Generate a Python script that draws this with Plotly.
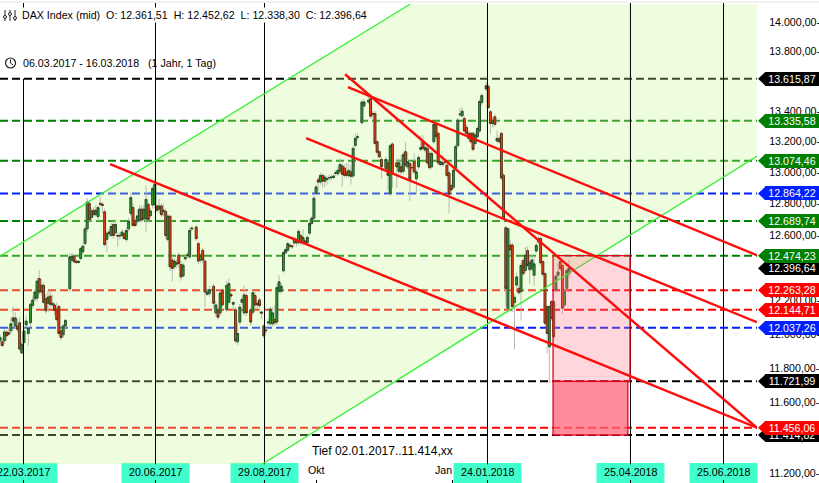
import numpy as np
import plotly.graph_objects as go

# ---------- data ----------
bars = """0 11960 12000 11945 11980
1 11954 11975 11925 11931
2 11960 12030 11940 12012
3 12012 12025 11960 11989
4 12008 12040 11985 11999
5 12019 12100 12000 12061
6 12096 12165 12060 12077
7 12048 12130 12030 12096
8 12048 12090 12010 12028
9 12067 12100 11900 11911
10 11888 11950 11880 11940
11 11950 12040 11940 12018
12 12054 12110 12040 12077
13 12003 12045 11930 12034
14 12067 12190 12040 12178
15 12171 12225 12150 12204
16 12211 12270 12195 12252
17 12215 12340 12190 12318
18 12334 12385 12235 12252
19 12293 12330 12230 12252
20 12293 12310 12180 12190
21 12211 12240 12120 12139
22 12184 12260 12130 12221
23 12227 12265 12150 12178
24 12174 12240 12160 12184
25 12174 12190 12110 12141
26 12149 12190 12070 12087
27 12165 12175 11985 12003
28 12018 12035 11960 11979
29 11995 12060 11975 12048
30 12048 12090 12035 12081
32 12272 12490 12255 12467
33 12447 12490 12435 12471
34 12471 12480 12425 12437
35 12440 12450 12425 12432
36 12432 12450 12425 12440
37 12457 12530 12445 12518
38 12498 12545 12480 12533
39 12549 12660 12535 12641
40 12641 12835 12620 12810
41 12800 12820 12680 12699
42 12713 12770 12690 12754
43 12758 12780 12715 12730
44 12730 12790 12720 12758
45 12718 12790 12690 12775
46 12802 12845 12780 12795
47 12795 12810 12740 12789
48 12748 12770 12530 12543
49 12576 12630 12495 12611
50 12621 12640 12590 12611
51 12600 12680 12590 12656
52 12668 12690 12580 12600
53 12617 12700 12600 12668
54 12600 12620 12530 12596
55 12596 12620 12570 12600
56 12600 12640 12585 12621
57 12611 12630 12570 12580
58 12574 12650 12560 12631
59 12641 12710 12625 12689
60 12738 12870 12720 12838
61 12775 12800 12650 12662
62 12693 12710 12650 12662
63 12689 12760 12670 12722
64 12693 12790 12680 12765
65 12765 12790 12680 12697
66 12703 12790 12690 12765
67 12703 12915 12620 12827
68 12795 12810 12680 12699
69 12724 12770 12710 12754
70 12791 12910 12770 12897
71 12795 12960 12770 12923
72 12785 12800 12745 12758
73 12764 12830 12740 12785
74 12785 12800 12715 12730
75 12750 12800 12720 12758
76 12750 12770 12580 12600
77 12574 12735 12560 12720
78 12720 12730 12380 12406
79 12447 12470 12315 12396
80 12406 12460 12390 12441
81 12430 12450 12400 12422
82 12478 12495 12400 12426
83 12420 12440 12320 12344
84 12350 12430 12340 12416
85 12455 12475 12440 12463
86 12480 12500 12460 12477
87 12467 12650 12455 12631
88 12640 12660 12625 12645
90 12652 12665 12565 12580
91 12549 12565 12420 12441
92 12447 12490 12430 12478
93 12508 12520 12430 12447
94 12441 12450 12160 12252
95 12238 12270 12230 12252
96 12242 12290 12225 12266
98 12287 12300 12150 12184
99 12126 12195 12100 12174
100 12145 12160 12085 12100
101 12126 12260 12110 12246
102 12262 12280 12160 12174
104 12145 12320 12130 12293
105 12190 12335 12175 12303
106 12237 12250 12210 12228
107 12178 12200 12140 12188
108 12145 12160 11945 11960
109 11954 12070 11935 12003
110 12071 12180 12055 12161
111 12190 12225 12170 12207
112 12126 12290 12110 12235
113 12231 12245 12105 12126
115 12145 12160 12050 12071
116 12130 12265 12115 12248
117 12231 12250 12155 12174
118 12184 12200 12150 12174
119 12204 12220 12120 12170
120 12131 12140 12090 12125
121 12048 12060 11975 11989
122 12023 12040 12000 12020
123 12067 12090 12050 12071
124 12061 12165 12045 12149
125 12061 12160 12045 12126
126 12087 12170 12050 12067
127 12071 12300 12055 12279
128 12256 12355 12240 12314
129 12256 12305 12240 12287
130 12381 12505 12370 12494
131 12492 12525 12480 12512
132 12508 12565 12495 12549
133 12539 12550 12520 12533
134 12535 12545 12515 12530
135 12553 12595 12540 12580
136 12570 12585 12530 12553
137 12555 12640 12540 12625
138 12599 12610 12540 12555
139 12555 12640 12540 12588
140 12566 12580 12540 12555
141 12555 12600 12540 12588
142 12614 12700 12600 12675
143 12675 12725 12660 12708
144 12708 12850 12695 12834
145 12865 12920 12850 12906
146 12952 12970 12880 12937
147 12937 12995 12920 12980
148 12980 12995 12900 12943
149 12943 12985 12905 12969
150 12955 12975 12920 12958
151 12965 12985 12945 12965
152 12965 12985 12950 12969
153 12967 12990 12955 12975
154 12992 13015 12975 12998
155 12991 13040 12975 13013
156 13006 13090 12990 13050
157 13041 13060 12910 12987
158 13028 13050 12965 12980
159 13002 13060 12965 12980
160 12978 13060 12965 13013
161 13002 13045 12920 12974
162 12976 13170 12960 13155
163 13174 13250 13160 13220
164 13225 13255 13210 13231
166 13323 13475 13310 13460
167 13434 13480 13420 13460
169 13460 13500 13445 13471
170 13482 13510 13350 13366
171 13384 13400 13340 13378
172 13384 13400 13175 13187
173 13198 13210 13115 13129
174 13133 13145 13090 13100
175 13083 13100 12960 13035
177 13024 13100 13010 13083
178 13061 13075 12885 12980
179 12865 13185 12850 13172
180 13183 13195 12900 12991
182 13061 13090 12900 13035
183 13006 13090 12990 13061
184 13035 13110 12985 13002
185 13006 13130 12990 13115
186 13133 13195 13030 13046
187 13035 13130 13020 13068
188 13057 13075 12815 12952
189 13030 13050 13010 13030
190 13068 13120 12985 13002
191 12958 13020 12860 13002
192 13035 13110 13020 13096
193 13148 13240 13135 13161
194 13198 13240 13140 13155
195 13144 13200 13130 13161
196 13155 13170 13045 13061
197 13122 13140 13015 13030
198 13035 13135 13020 13122
199 13198 13325 13185 13312
200 13314 13330 13215 13231
201 13253 13265 13045 13061
202 13050 13085 13035 13068
203 13061 13080 13035 13050
204 13065 13080 13050 13065
205 13046 13060 12965 12980
206 12996 13010 12740 12860
207 12915 12930 12870 12887
208 12904 13030 12890 13013
209 13028 13180 13015 13166
210 13172 13355 13160 13340
211 13375 13420 13360 13380
212 13368 13425 13355 13399
213 13351 13365 13250 13268
214 13292 13310 13240 13253
215 13253 13270 13205 13220
216 13253 13265 13185 13198
217 13253 13265 13135 13148
218 13187 13260 13175 13242
219 13231 13300 13220 13285
220 13268 13480 13255 13464
221 13456 13520 13440 13503
223 13547 13595 13535 13569
224 13565 13580 13410 13423
225 13395 13410 13250 13318
226 13318 13360 13290 13340
227 13362 13380 13295 13312
228 13203 13270 13190 13220
229 13220 13240 13185 13198
230 13253 13265 12950 12963
231 12980 12995 12695 12708
232 12648 12660 12164 12274
233 12154 12650 12130 12642
234 12540 12570 12480 12510
235 12540 12555 12130 12164
236 12188 12240 11910 12220
237 12294 12370 12270 12344
238 12274 12290 12235 12248
239 12254 12430 12080 12414
240 12444 12460 12350 12364
241 12384 12530 12370 12478
242 12506 12530 12400 12414
243 12388 12470 12300 12434
244 12394 12480 12380 12448
245 12354 12470 12290 12424
246 12503 12555 12490 12538
247 12560 12600 12545 12580
248 12580 12595 12415 12430
249 12438 12450 12345 12360
250 12364 12375 12050 12064
251 12164 12175 11884 12004
252 11924 12175 11714 12164
253 12194 12205 12080 12094
254 12194 12205 11970 11984
255 12264 12360 12250 12348
256 12354 12430 12340 12374
257 12438 12450 12380 12394
258 12414 12425 12120 12154
259 12174 12265 12160 12254
260 12274 12400 12260 12384
261 12361.51 12452.62 12338.30 12396.64"""
rows = [[float(v) for v in r.split()] for r in bars.splitlines()]
bar_index = [r[0] for r in rows]
open_ = [r[1] for r in rows]
high = [r[2] for r in rows]
low = [r[3] for r in rows]
close = [r[4] for r in rows]

level_values = [13615.87, 13335.58, 13074.46, 12864.22, 12689.74, 12474.23,
                12263.28, 12144.71, 12037.26, 11721.99, 11456.06, 11414.82]
level_colors = ["#000000", "#008000", "#008000", "#0020ff", "#008000", "#008000",
                "#ff0000", "#ff0000", "#0020ff", "#000000", "#ff0000", "#000000"]
last_close = 12396.64

date_index = [10.78, 71.33, 121.33, 223.62, 289.2, 331.88]
date_labels = ["22.03.2017", "20.06.2017", "29.08.2017", "24.01.2018", "25.04.2018", "25.06.2018"]
month_index = [145.2, 207.5]
month_labels = ["Okt", "Jan"]

y_tickvals = [14000, 13800, 13600, 13400, 13200, 13000, 12800, 12600, 12400, 12200, 12000, 11800, 11600, 11400, 11200]
y_ticktext = ["14.000,00-", "13.800,00-", "13.600,00-", "13.400,00-", "13.200,00-", "13.000,00-", "12.800,00-",
              "12.600,00-", "12.400,00-", "12.200,00-", "12.000,00-", "11.800,00-", "11.600,00-", "11.400,00-", "11.200,00-"]

trend_x = [[50.5, 347.2], [158.3, 347.2], [159.6, 347.2], [140.4, 347.2]]
trend_y = [[13052, 11456], [13646, 11456], [13559, 12477], [13221, 12070]]

channel_x = [0, 188, 347.2, 347.2, 120.2, 0]
channel_y = [12471, 14127, 14127, 13104, 11251, 11251]
channel_up_x, channel_up_y = [0, 188], [12471, 14127]
channel_lo_x, channel_lo_y = [120.2, 347.2], [11251, 13104]

target_x = [253.7, 289]
target_y = [12474.23, 11721.99]
stop_x = [253.7, 288]
stop_y = [11721.99, 11414.82]

# ---------- layout constants ----------
W, H = 819, 483
ML, MR, MT, MB = 0, 62, 3, 0
PW, PH = W - ML - MR, H - MT - MB
PX_PER_BAR = 2.18
x_range = [0, PW / PX_PER_BAR]
y_top, y_bot = 14136.0, 11147.0
y_range = [np.log10(y_bot), np.log10(y_top)]
FONT = "Liberation Sans, Arial, sans-serif"
FS = 10.67


def px(x):
    return (x - ML) / PW


def py(y):
    return 1 - (y - MT) / PH


def price_frac(v):
    return (np.log10(v) - y_range[0]) / (y_range[1] - y_range[0])


shapes, annots = [], []

# channel fill and level lines sit under the candles
for v, c in zip(level_values, level_colors):
    shapes.append(dict(type="line", layer="below", xref="paper", x0=0, x1=1, yref="y", y0=v, y1=v,
                       line=dict(color=c, width=2, dash="8px,4px")))
path = "M " + " L ".join(f"{a},{b}" for a, b in zip(channel_x, channel_y)) + " Z"
shapes.append(dict(type="path", layer="below", xref="x", yref="y", path=path,
                   fillcolor="rgba(198,248,145,0.3)", line=dict(width=0)))

# top hairline
shapes.append(dict(type="line", xref="paper", yref="paper", x0=0, x1=W / PW, y0=py(2), y1=py(2),
                   line=dict(color="#e4e4e4", width=1)))

# date tags along the bottom
for i, lab in zip(date_index, date_labels):
    c = i * PX_PER_BAR
    shapes.append(dict(type="rect", layer="below", xref="paper", yref="paper",
                       x0=px(c - 34), x1=px(c + 34), y0=py(483), y1=py(463),
                       fillcolor="#40ffcc", line=dict(width=0)))
    annots.append(dict(xref="x", yref="paper", x=i, y=py(472), text=lab, showarrow=False,
                       xanchor="center", yanchor="middle",
                       font=dict(family=FONT, size=FS, color="#000000")))
for i, lab, off in zip(month_index, month_labels, [0, -9]):
    annots.append(dict(xref="x", yref="paper", x=i, y=py(470), xshift=off, text=lab, showarrow=False,
                       xanchor="center", yanchor="middle",
                       font=dict(family=FONT, size=FS, color="#000000")))

# price tags, lower layers first
tags = [(11414.82, "#000000", "11.414,82"), (last_close, "#000000", "12.396,64"),
        (13615.87, "#000000", "13.615,87"), (13335.58, "#008000", "13.335,58"),
        (13074.46, "#008000", "13.074,46"), (12864.22, "#0020ff", "12.864,22"),
        (12689.74, "#008000", "12.689,74"), (12474.23, "#008000", "12.474,23"),
        (12263.28, "#ff0000", "12.263,28"), (12144.71, "#ff0000", "12.144,71"),
        (12037.26, "#0020ff", "12.037,26"), (11721.99, "#000000", "11.721,99"),
        (11456.06, "#ff0000", "11.456,06")]
for v, c, t in tags:
    f = price_frac(v)
    dy = 7 / PH
    shapes.append(dict(type="path", xref="paper", yref="paper", fillcolor=c, line=dict(width=0),
                       path=f"M {px(758)},{f} L {px(765.5)},{f + dy} L {px(765.5)},{f - dy} Z"))
    annots.append(dict(xref="paper", yref="y", x=px(819), y=float(np.log10(v)), xanchor="right", yanchor="middle",
                       text=t, showarrow=False, width=54, height=14, bgcolor=c, borderpad=0, borderwidth=0,
                       align="center", valign="middle", font=dict(family=FONT, size=FS, color="#ffffff")))

# header
nb = "\u00a0"
annots.append(dict(xref="paper", yref="paper", x=px(20), y=py(15), xanchor="left", yanchor="middle",
                   bgcolor="#ffffff", showarrow=False, borderpad=1,
                   text=f"DAX Index (mid){nb}{nb}O: 12.361,51{nb}{nb}H: 12.452,62{nb}{nb}L: 12.338,30{nb}{nb}C: 12.396,64",
                   font=dict(family=FONT, size=FS, color="#000000")))
annots.append(dict(xref="paper", yref="paper", x=px(21), y=py(63), xanchor="left", yanchor="middle", showarrow=False,
                   text=f"06.03.2017 - 16.03.2018{nb}{nb}{nb}(1 Jahr, 1 Tag)",
                   font=dict(family=FONT, size=FS, color="#000000")))
annots.append(dict(xref="x", yref="paper", x=310 / PX_PER_BAR, y=py(451), xanchor="left", yanchor="middle",
                   showarrow=False, text="Tief 02.01.2017..11.414,xx",
                   font=dict(family=FONT, size=12, color="#000000")))

# header icons
for cx, top, bot, cy in [(5, 10, 21, 17), (10, 10, 21, 14), (15, 10, 21, 18)]:
    shapes.append(dict(type="line", xref="paper", yref="paper", x0=px(cx), x1=px(cx), y0=py(top), y1=py(bot),
                       line=dict(color="#222222", width=1)))
    shapes.append(dict(type="circle", xref="paper", yref="paper", x0=px(cx - 1.5), x1=px(cx + 1.5),
                       y0=py(cy - 1.5), y1=py(cy + 1.5), fillcolor="#ffffff", line=dict(color="#222222", width=1)))
shapes.append(dict(type="circle", xref="paper", yref="paper", x0=px(5.5), x1=px(15.5), y0=py(58), y1=py(68),
                   line=dict(color="#222222", width=1.2)))
shapes.append(dict(type="path", xref="paper", yref="paper", line=dict(color="#222222", width=1),
                   path=f"M {px(10.5)},{py(59.5)} L {px(10.5)},{py(63)} L {px(13)},{py(65)}"))

fig = go.Figure()

# wicks (pale), then bodies with dark outlines
fig.add_trace(go.Candlestick(x=bar_index, open=open_, high=high, low=low, close=close, whiskerwidth=0,
                             increasing=dict(line=dict(color="#b8bcb0", width=1), fillcolor="rgba(0,0,0,0)"),
                             decreasing=dict(line=dict(color="#b8bcb0", width=1), fillcolor="rgba(0,0,0,0)"),
                             showlegend=False, hoverinfo="skip"))
body_hi = [max(a, b) for a, b in zip(open_, close)]
body_lo = [min(a, b) for a, b in zip(open_, close)]
fig.add_trace(go.Candlestick(x=bar_index, open=open_, high=body_hi, low=body_lo, close=close, whiskerwidth=0,
                             increasing=dict(line=dict(color="#27502a", width=1), fillcolor="#2ea52e"),
                             decreasing=dict(line=dict(color="#5a3416", width=1), fillcolor="#ff3d10"),
                             showlegend=False, hoverinfo="skip"))

# vertical date lines
first_gap_top = 14092
for n, i in enumerate(date_index):
    if n == 0:
        vx, vy = [i, i, None, i, i], [y_top, first_gap_top, None, 13615.87, 11251]
    else:
        vx, vy = [i, i], [y_top, 11251]
    fig.add_trace(go.Scatter(x=vx, y=vy, mode="lines", line=dict(color="#000000", width=1), showlegend=False,
                             hoverinfo="skip"))

# channel edges
fig.add_trace(go.Scatter(x=channel_up_x, y=channel_up_y, mode="lines", line=dict(color="#33f033", width=1.3),
                         showlegend=False, hoverinfo="skip"))
fig.add_trace(go.Scatter(x=channel_lo_x, y=channel_lo_y, mode="lines", line=dict(color="#33f033", width=1.3),
                         showlegend=False, hoverinfo="skip"))

# target and stop boxes
fig.add_trace(go.Scatter(x=[target_x[0], target_x[1], target_x[1], target_x[0], target_x[0]],
                         y=[target_y[0], target_y[0], target_y[1], target_y[1], target_y[0]],
                         mode="lines", fill="toself", fillcolor="rgba(255,120,140,0.3)",
                         line=dict(color="#e8001c", width=1.3), showlegend=False, hoverinfo="skip"))
fig.add_trace(go.Scatter(x=[stop_x[0], stop_x[1], stop_x[1], stop_x[0], stop_x[0]],
                         y=[stop_y[0], stop_y[0], stop_y[1], stop_y[1], stop_y[0]],
                         mode="lines", fill="toself", fillcolor="rgba(255,100,120,0.75)",
                         line=dict(color="#e8001c", width=1.3), showlegend=False, hoverinfo="skip"))

# red trend lines
for tx, ty in zip(trend_x, trend_y):
    fig.add_trace(go.Scatter(x=tx, y=ty, mode="lines", line=dict(color="#ff0d0d", width=2.4), showlegend=False,
                             hoverinfo="skip"))

fig.update_layout(
    width=W, height=H, margin=dict(l=ML, r=MR, t=MT, b=MB, autoexpand=False),
    paper_bgcolor="#ffffff", plot_bgcolor="#ffffff", showlegend=False,
    boxgap=0.15, boxgroupgap=0, boxmode="overlay",
    shapes=shapes, annotations=annots, font=dict(family=FONT, size=FS, color="#000000"),
    xaxis=dict(range=x_range, rangeslider=dict(visible=False), showgrid=False, zeroline=False, showline=False,
               tickmode="array", tickvals=date_index + month_index, ticks="inside", ticklen=3,
               tickcolor="#000000", tickwidth=1, showticklabels=False),
    yaxis=dict(type="log", range=y_range, side="right", showgrid=False, zeroline=False, showline=False,
               tickmode="array", tickvals=y_tickvals, ticktext=y_ticktext, ticks="outside", ticklen=9,
               tickcolor="rgba(0,0,0,0)", tickfont=dict(family=FONT, size=FS, color="#000000")),
)

fig.write_html("out.html", post_script="document.body.style.margin='0';document.body.style.overflow='hidden';",
               config=dict(displayModeBar=False))
